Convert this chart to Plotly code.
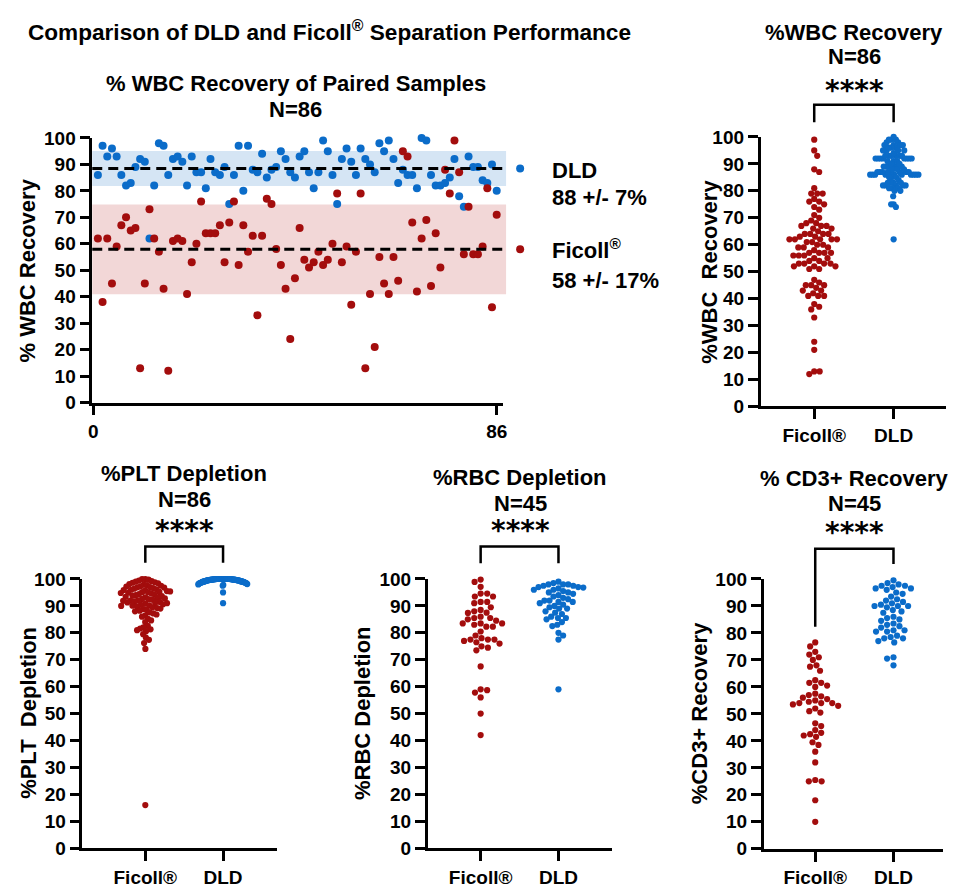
import numpy as np
import plotly.graph_objects as go

# ---------------- data ----------------
dld_wbc = [86, 97, 93, 96, 93, 86, 82, 83, 89, 92, 91, 62, 82, 98, 97, 86, 92, 93, 91, 82,
           93, 87, 87, 81, 92, 87, 86, 89, 75, 86, 97, 80, 97, 88, 87, 94, 85, 88, 89, 95,
           92, 87, 85, 93, 95, 87, 81, 87, 99, 95, 86, 75, 92, 96, 91, 86, 96, 92, 90, 87,
           98, 95, 99, 92, 83, 88, 86, 86, 81, 100, 99, 86, 82, 82, 83, 85, 92, 78, 74, 93,
           89, 89, 84, 83, 90, 80]
ficoll_wbc = [62, 38, 62, 45, 59, 67, 70, 65, 66, 13, 45, 73, 62, 57, 43, 12, 61, 62, 61, 41,
              53, 60, 76, 64, 64, 64, 67, 53, 68, 76, 52, 67, 57, 63, 33, 63, 77, 75, 58, 52,
              43, 24, 47, 66, 54, 51, 53, 57, 52, 54, 60, 79, 53, 59, 37, 57, 79, 13, 41, 21,
              55, 45, 41, 55, 46, 95, 93, 68, 42, 62, 69, 44, 64, 51, 88, 79, 99, 87, 56, 74,
              56, 56, 59, 81, 36, 71]

ficoll_plt = [100, 100, 99.8, 99.4, 99.2, 99.0, 98.8, 98.6, 98.4, 98.1, 97.9, 97.7, 97.5, 97.3,
              97.2, 97.0, 96.9, 96.8, 96.6, 96.4, 96.2, 96.0, 95.9, 95.7, 95.5, 95.4, 95.2, 95.1,
              95.0, 94.9, 94.8, 94.6, 94.4, 94.2, 94.0, 93.8, 93.6, 93.4, 93.2, 93.0, 92.8, 92.6,
              92.5, 92.3, 92.1, 92.0, 91.9, 91.7, 91.5, 91.3, 91.1, 91.0, 90.8, 90.6, 90.4, 90.2,
              90.1, 90.0, 89.8, 89.5, 89.2, 89.0, 88.8, 88.5, 88.2, 88.0, 87.6, 87.2, 86.8, 86.4,
              86.0, 85.2, 84.6, 84.0, 82.6, 82.0, 81.6, 81.3, 81.0, 80.6, 79.5, 78.2, 77.4, 76.2,
              74.0, 16.0]
dld_plt = [100, 100, 100, 100, 100, 100, 100, 100, 100, 100,
           100, 100, 100, 100, 100, 100, 100, 100, 100, 100,
           99.9, 99.9, 99.9, 99.9, 99.9, 99.8, 99.8, 99.8, 99.8, 99.8,
           99.7, 99.7, 99.7, 99.7, 99.6, 99.6, 99.6, 99.5, 99.5, 99.5,
           99.4, 99.4, 99.3, 99.3, 99.2, 99.2, 99.1, 99.1, 99.0, 99.0,
           98.9, 98.9, 98.8, 98.8, 98.7, 98.7, 98.6, 98.5, 98.4, 98.3,
           98.2, 98.0, 97.8, 97.5, 100, 100, 100, 100, 99.9, 99.8,
           99.7, 99.6, 99.5, 99.3, 99.1, 98.9, 98.6, 98.1, 100, 99.9,
           99.8, 99.4, 99.0, 98.5, 95.0, 91.0]

ficoll_rbc = [99.8, 98.9, 97.1, 94.6, 94.6, 93.5, 93.5, 91.5, 91.5, 91.0, 89.5, 88.5, 88.0, 87.5,
              87.4, 86.0, 85.5, 85.5, 85.0, 84.5, 83.5, 83.5, 83.5, 83.0, 82.3, 82.3, 80.5, 79.0,
              78.0, 77.5, 77.5, 77.5, 77.0, 76.5, 76.0, 75.0, 74.5, 73.5, 67.5, 59.0, 58.7, 57.8,
              56.0, 50.0, 42.0]
dld_rbc = [99, 98.5, 98, 98, 98, 97.5, 97.5, 97, 97, 96.5, 96, 96, 95.5, 95, 95, 94.5, 94, 93.5,
           93, 92.5, 92, 92, 91.5, 91.5, 91, 90.5, 90, 89.5, 89, 89, 88, 87.5, 87, 86, 85.5, 85.5,
           85, 84, 83, 82.5, 80, 79, 77.5, 59, 96.8]

ficoll_cd3 = [76.5, 75, 73, 72, 71, 70, 68, 67.5, 66, 62.5, 61.5, 61.5, 60.5, 60, 57.5, 57, 56.5,
              56, 55, 54.5, 54, 54, 54, 53.5, 53, 52, 51, 50.5, 46.5, 45.5, 44, 43, 42.5, 42, 41.5,
              39.5, 38.5, 36, 32, 25.5, 25, 25, 18, 10, 55.5]
dld_cd3 = [99.5, 98.5, 98, 97.5, 97.5, 97, 96.5, 96.5, 96, 95, 94.5, 93.5, 92, 91.5, 91, 90.5, 90,
           90, 90, 89.5, 88.5, 88, 87.5, 85.5, 85, 84.5, 83.5, 83, 82.5, 82, 81, 81, 80.5, 80.5,
           79, 78.5, 78, 78, 77, 76.5, 71, 70.5, 68, 92.5, 86]

categories = ["Ficoll®", "DLD"]
y_ticks = [0, 10, 20, 30, 40, 50, 60, 70, 80, 90, 100]
scatter_x_ticks = [0, 86]

# ---------------- styling / layout ----------------
W, H = 956, 893
FONT = "Liberation Sans, Arial, sans-serif"
BLUE = "#0b6cc9"
RED = "#a30d0d"
BLUE_BAND = "#d5e5f4"
RED_BAND = "#f2d7d7"


def px(x):
    return x / W


def py(y):
    return 1 - y / H


panels = {
    "A": dict(ax="", xdom=(89, 503), xr=(-0.2, 87.3), ydom=(131, 402)),
    "B": dict(ax="2", xdom=(763, 950), xr=(-0.675, 1.66), ydom=(130, 406)),
    "C": dict(ax="3", xdom=(79, 275), xr=(-0.81, 1.69), ydom=(582.7, 858.3)),
    "D": dict(ax="4", xdom=(427.3, 613.3), xr=(-0.68, 1.69), ydom=(582.7, 858.3)),
    "E": dict(ax="5", xdom=(766, 946.7), xr=(-0.66, 1.63), ydom=(582.7, 859)),
}


def xpaper(p, v):
    (d0, d1), (r0, r1) = p["xdom"], p["xr"]
    return px(d0 + (v - r0) / (r1 - r0) * (d1 - d0))


def swarm(values, p, center, d=6.6, maxw=25.0):
    vals = np.asarray(values, dtype=float)
    ppy = (p["ydom"][1] - p["ydom"][0]) / 100.0
    ppx = (p["xdom"][1] - p["xdom"][0]) / (p["xr"][1] - p["xr"][0])
    ys = vals * ppy
    order = np.argsort(-ys, kind="stable")
    xs = np.zeros(len(vals))
    placed = []
    for k, i in enumerate(order):
        y = ys[i]
        near = [(xj, yj) for xj, yj in placed if abs(y - yj) < d]
        cands = [0.0]
        for xj, yj in near:
            dx = np.sqrt(d * d - (y - yj) ** 2)
            cands += [xj - dx, xj + dx]
        sgn = 1 if k % 2 else -1
        cands.sort(key=lambda c: (round(abs(c), 6), sgn * c))
        chosen = cands[-1]
        for c in cands:
            if all((c - xj) ** 2 + (y - yj) ** 2 >= d * d - 1e-6 for xj, yj in near):
                chosen = c
                break
        xs[i] = chosen
        placed.append((chosen, y))
    m = np.max(np.abs(xs))
    if m > maxw:
        xs = xs * maxw / m
    return center + xs / ppx


fig = go.Figure()

# ---- panel A: paired scatter ----
A = panels["A"]
idx = np.arange(1, len(dld_wbc) + 1)
fig.add_trace(go.Scatter(x=idx, y=dld_wbc, mode="markers", xaxis="x", yaxis="y",
                         marker=dict(color=BLUE, size=8), cliponaxis=False, showlegend=False))
fig.add_trace(go.Scatter(x=idx, y=ficoll_wbc, mode="markers", xaxis="x", yaxis="y",
                         marker=dict(color=RED, size=8), cliponaxis=False, showlegend=False))

shapes = []
for vals, band in ((dld_wbc, BLUE_BAND), (ficoll_wbc, RED_BAND)):
    m, s = float(np.mean(vals)), float(np.std(vals, ddof=1))
    shapes.append(dict(type="rect", xref="paper", yref="y", x0=xpaper(A, -0.2), x1=xpaper(A, 88),
                       y0=m - s, y1=m + s, fillcolor=band, line=dict(width=0), layer="below"))
    shapes.append(dict(type="line", xref="paper", yref="y", x0=xpaper(A, -0.2), x1=xpaper(A, 87.3),
                       y0=m, y1=m, line=dict(color="black", width=3, dash="10px,6px"), layer="above"))
# legend dots
for vals, col in ((dld_wbc, BLUE), (ficoll_wbc, RED)):
    m = float(np.mean(vals))
    shapes.append(dict(type="circle", xref="paper", yref="y", xsizemode="pixel", ysizemode="pixel",
                       xanchor=px(520.5), yanchor=m, x0=-4, x1=4, y0=-4, y1=4,
                       fillcolor=col, line=dict(width=0)))

# ---- swarm panels ----
swarm_sets = [
    ("B", ficoll_wbc, dld_wbc),
    ("C", ficoll_plt, dld_plt),
    ("D", ficoll_rbc, dld_rbc),
    ("E", ficoll_cd3, dld_cd3),
]
for key, fvals, dvals in swarm_sets:
    p = panels[key]
    for ci, (vals, col) in enumerate(((fvals, RED), (dvals, BLUE))):
        fig.add_trace(go.Scatter(x=swarm(vals, p, ci), y=vals, mode="markers",
                                 xaxis="x" + p["ax"], yaxis="y" + p["ax"],
                                 marker=dict(color=col, size=6.2), cliponaxis=False,
                                 showlegend=False))

# brackets (pixel heights: top, left leg end, right leg end)
brackets = {"B": (97, 115, 115), "C": (549.3, 566, 566), "D": (549.3, 566.7, 566.7),
            "E": (551.7, 631.7, 567.3)}
for key, (top, l, r) in brackets.items():
    p = panels[key]
    x0, x1 = xpaper(p, 0), xpaper(p, 1)
    shapes.append(dict(type="path", xref="paper", yref="paper",
                       path=f"M {x0},{py(l)} L {x0},{py(top)} L {x1},{py(top)} L {x1},{py(r)}",
                       line=dict(color="black", width=2.5)))

# ---- axes ----
tickfont = dict(family=FONT, size=19, color="black", weight="bold")
axis_common = dict(showline=True, linewidth=2.5, linecolor="black", ticks="outside", ticklen=10,
                   tickwidth=2.5, tickcolor="black", tickfont=tickfont, showgrid=False,
                   zeroline=False, fixedrange=True)
layout_axes = {}
for key, p in panels.items():
    s = p["ax"]
    xa = dict(axis_common, domain=[px(p["xdom"][0]), px(p["xdom"][1])], range=list(p["xr"]),
              anchor="y" + s)
    if key == "A":
        xa.update(tickmode="array", tickvals=scatter_x_ticks, ticktext=[str(t) for t in scatter_x_ticks])
    else:
        xa.update(tickmode="array", tickvals=[0, 1], ticktext=categories)
    ya = dict(axis_common, domain=[py(p["ydom"][1]), py(p["ydom"][0])], range=[0, 100],
              tickmode="array", tickvals=y_ticks, anchor="x" + s)
    layout_axes["xaxis" + s] = xa
    layout_axes["yaxis" + s] = ya

# ---- text ----
annotations = []


def text(t, x, y, size=22, xanchor="center", angle=0, family=FONT):
    annotations.append(dict(text=t, x=px(x), y=py(y), xref="paper", yref="paper",
                            xanchor=xanchor, yanchor="middle", showarrow=False, textangle=angle,
                            font=dict(family=family, size=size, color="black", weight="bold")))


text("Comparison of DLD and Ficoll<sup>®</sup> Separation Performance", 22, 21, size=22.6,
     xanchor="left")
text("% WBC Recovery of Paired Samples", 294, 75)
text("N=86", 294, 102)
text("% WBC Recovery", 24, 267, angle=-90)
text("DLD", 551, 164, xanchor="left")
text("88 +/- 7%", 551, 192, xanchor="left")
text("Ficoll<sup>®</sup>", 551, 245, xanchor="left")
text("58 +/- 17%", 551, 277, xanchor="left")

stars = "****"
panel_text = [
    ("%WBC Recovery", "N=86", "%WBC\u00a0 Recovery", 857.5, 23, 48, 82, 712, 268),
    ("%PLT Depletion", "N=86", "%PLT\u00a0 Depletion", 181.7, 475, 501, 533, 24, 720),
    ("%RBC Depletion", "N=45", "%RBC Depletion", 520.8, 479, 505.5, 533, 361, 720),
    ("% CD3+ Recovery", "N=45", "%CD3+ Recovery", 857.5, 480, 505.5, 535, 701, 720),
]
for title, n, ytitle, cx, ty, ny, sy, yx, yy in panel_text:
    text(title, cx, ty)
    text(n, cx, ny)
    text(stars, cx, sy, size=28, family="DejaVu Sans")
    text(ytitle, yx, yy, angle=-90)

fig.update_layout(width=W, height=H, margin=dict(l=0, r=0, t=0, b=0), paper_bgcolor="white",
                  plot_bgcolor="rgba(0,0,0,0)", showlegend=False, shapes=shapes,
                  annotations=annotations, font=dict(family=FONT, color="black"), **layout_axes)

fig.write_html("out.html", config={"displayModeBar": False})
